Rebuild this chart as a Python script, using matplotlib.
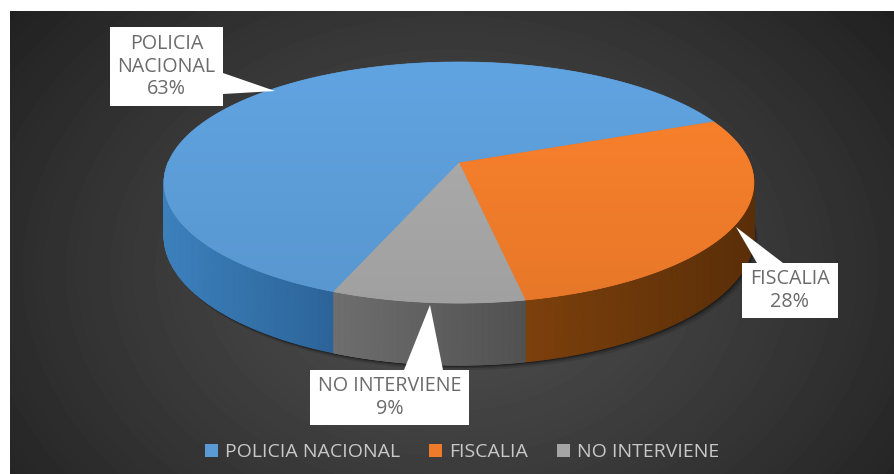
import numpy as np
import matplotlib
matplotlib.use("Agg")
import matplotlib.pyplot as plt
from matplotlib.colors import to_rgb
from matplotlib.patches import Polygon, Patch

# Donnees du graphique
categories = ["POLICIA NACIONAL", "FISCALIA", "NO INTERVIENE"]
callouts = ["POLICIA\nNACIONAL", "FISCALIA", "NO INTERVIENE"]
values = [63, 28, 9]
colors = ["#5B9BD5", "#EE7B2A", "#A5A5A5"]
wall_left = ["#3C80BC", "#7C400C", "#6E6E6E"]
wall_right = ["#2C6499", "#5A2E08", "#515151"]

W, H = 895, 474
plt.rcParams['font.family'] = ['Open Sans', 'DejaVu Sans']

# Parametres de la perspective (pixels)
x0, y0 = 459, 163
rx, ry = 291, 117.4
k = 0.162
depth = 52
start = np.radians(-111.4)


def project(theta, drop=0.0):
    u, v = np.cos(theta), np.sin(theta)
    w = 1 + k*v
    return x0 + rx*u/w, y0 - ry*v/w + drop*depth/w


fig = plt.figure(figsize=(W/100, H/100), dpi=100)
ax = fig.add_axes([0, 0, 1, 1])
ax.set_xlim(0, W)
ax.set_ylim(H, 0)
ax.axis('off')

# Fond sombre avec degrade radial
yy, xx = np.mgrid[11:H, 10:W]
d = np.sqrt(((xx-450)/560)**2 + ((yy-270)/420)**2)
g = np.clip(0.31 - 0.18*d**1.2, 0.13, 0.31)
ax.imshow(g, cmap='gray', vmin=0, vmax=1, extent=(10, W, H, 11), aspect='auto', zorder=0)

# Ombre sous le camembert
th = np.linspace(np.pi, 2*np.pi, 200)
sx, sy = project(th, 1.0)
for off, a in [(5, 0.12), (3, 0.2), (1.5, 0.3)]:
    ax.fill(np.r_[sx+off*0.8, sx[::-1]], np.r_[sy+off, sy[::-1]-20], color='k', alpha=a, lw=0, zorder=1)

# Parois puis dessus des tranches
frac = np.cumsum([0] + values)/sum(values)
for i, c in enumerate(colors):
    a0 = start - 2*np.pi*frac[i]
    a1 = start - 2*np.pi*frac[i+1]
    th = np.linspace(a0, a1, 400)

    # Paroi : seulement la partie avant (sin < 0)
    front = np.sin(th) < 0.02
    wx, wy = project(th[front])
    bx, by = project(th[front], 1.0)
    mesh_x = np.array([wx, bx])
    mesh_y = np.array([wy, by])
    t = (wx - wx.min())/(np.ptp(wx) + 1e-9)
    t = np.c_[t, t].T
    cmap = matplotlib.colors.LinearSegmentedColormap.from_list('w', [wall_left[i], wall_right[i]])
    ax.pcolormesh(mesh_x, mesh_y, t, cmap=cmap, shading='gouraud', zorder=2)

    # Dessus avec leger degrade vertical
    px, py = project(th)
    poly = np.c_[np.r_[x0, px], np.r_[y0, py]]
    clip = Polygon(poly, closed=True, transform=ax.transData, fc=c, ec=c, lw=0.5, zorder=3)
    ax.add_patch(clip)
    grad = np.linspace(1.06, 0.97, 100)[:, None, None]*np.array(to_rgb(c))
    im = ax.imshow(np.clip(grad, 0, 1), extent=(150, 760, 310, 55), aspect='auto', zorder=3)
    im.set_clip_path(clip)

ax.set_xlim(0, W)
ax.set_ylim(H, 0)

# Etiquettes : encadre blanc + pointe
boxes = [(110, 27, 223, 106), (742, 263, 838, 318), (310, 370, 469, 425)]
tails = [[(223, 73), (275, 91), (223, 94)],
         [(757, 263), (736, 227), (783, 263)],
         [(404, 370), (430, 305), (443, 370)]]
for name, v, b, t in zip(callouts, values, boxes, tails):
    ax.add_patch(Polygon([(b[0], b[1]), (b[2], b[1]), (b[2], b[3]), (b[0], b[3])], fc='white', ec='none', zorder=5))
    ax.add_patch(Polygon(t, fc='white', ec='none', zorder=5))
    ax.text((b[0]+b[2])/2, (b[1]+b[3])/2, f"{name}\n{v}%", ha='center', va='center',
            color='#6b6b6b', fontsize=14.2, linespacing=1.17, zorder=6)

# Legende
handles = [Patch(fc=c, ec='none') for c in colors]
ax.legend(handles, categories, loc='center', bbox_to_anchor=(462/W, 1-452/H), ncol=3,
          frameon=False, fontsize=14, labelcolor='#c8c8c8', handlelength=0.67, handleheight=0.67,
          handletextpad=0.36, columnspacing=1.5, borderpad=0)

fig.savefig("out.png", dpi=100, facecolor='white')
